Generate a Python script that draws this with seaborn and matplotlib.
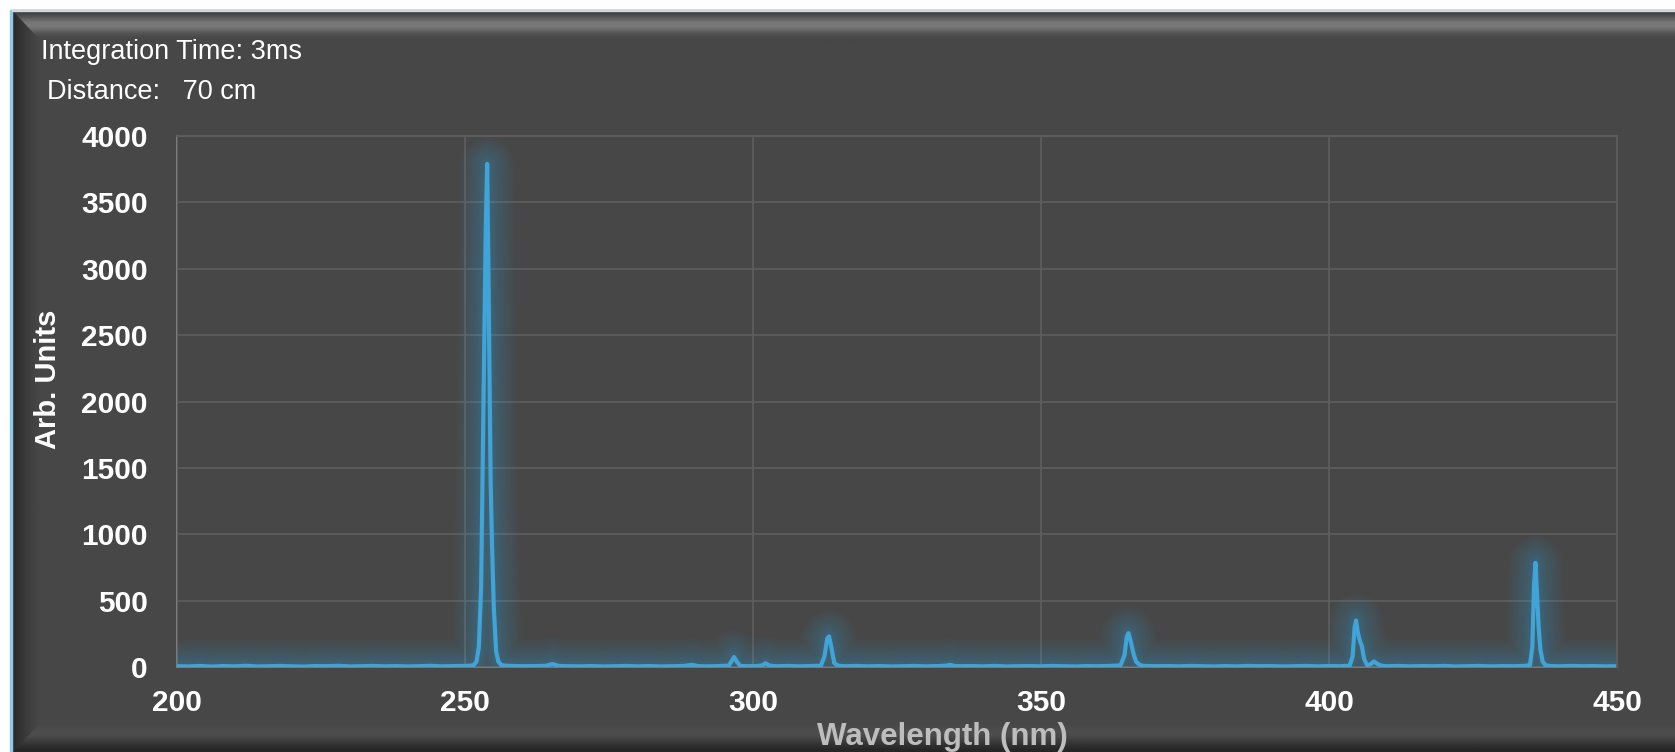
import numpy as np
import pandas as pd
import matplotlib
matplotlib.use("Agg")
import matplotlib.pyplot as plt
import seaborn as sns
from matplotlib.patches import Rectangle, Polygon
from matplotlib.colors import to_rgb

# ---------------- data ----------------
wavelength_nm = [
    200, 202, 204, 206, 208, 210, 212, 214, 216, 218, 220, 222, 224, 226, 228,
    230, 232, 234, 236, 238, 240, 242, 244, 246, 248, 250, 251, 251.5, 252.0,
    252.4, 252.8, 253.1, 253.4, 253.6, 253.85, 254.05, 254.25, 254.45, 254.7,
    255.0, 255.4, 255.8, 256.3, 257, 258, 260, 262, 264, 265.2, 266.3, 268, 270,
    272, 274, 276, 278, 280, 282, 284, 286, 288, 289.4, 290.6, 292, 294, 295.8,
    296.3, 296.7, 297.2, 297.8, 299, 300.5, 301.6, 302.2, 302.9, 304, 306, 308,
    310, 311.8, 312.4, 312.9, 313.2, 313.6, 314.1, 314.8, 316, 318, 320, 322,
    324, 326, 328, 330, 332, 333.5, 334.2, 335, 336, 338, 340, 342, 344, 346,
    348, 350, 352, 354, 356, 358, 360, 362, 363.8, 364.5, 364.9, 365.2, 365.6,
    366.0, 366.5, 367.2, 368, 370, 372, 374, 376, 378, 380, 382, 384, 386, 388,
    390, 392, 394, 396, 398, 400, 402, 403.6, 404.1, 404.45, 404.7, 405.0,
    405.4, 405.7, 406.1, 406.6, 407.2, 407.8, 408.5, 409.3, 410, 412, 414, 416,
    418, 420, 422, 424, 426, 428, 430, 432, 434, 434.9, 435.3, 435.6, 435.85,
    436.1, 436.4, 436.7, 437.1, 437.6, 438.5, 440, 442, 444, 446, 448, 450,
]
intensity = [
    6, 4, 8, 3, 7, 5, 9, 4, 6, 8, 5, 3, 7, 6, 9,
    4, 6, 8, 5, 7, 4, 6, 9, 5, 7, 8, 10, 14, 40,
    150, 600, 1600, 2600, 3300, 3790, 3050, 2200, 1400, 900,
    450, 120, 40, 15, 10, 8, 6, 7, 9, 22, 8, 6, 5,
    7, 4, 6, 8, 5, 7, 4, 6, 8, 16, 6, 5, 7, 10,
    45, 75, 40, 8, 6, 7, 12, 28, 10, 6, 8, 5,
    7, 10, 80, 215, 230, 150, 30, 9, 6, 8, 5, 7,
    4, 6, 8, 5, 7, 10, 16, 8, 6, 7, 5, 8, 4, 6,
    7, 5, 8, 6, 4, 7, 6, 8, 12, 90, 230, 255, 190,
    110, 40, 14, 8, 6, 7, 5, 8, 6, 4, 7, 5, 8, 6,
    7, 4, 6, 8, 5, 7, 6, 10, 80, 300, 350, 260,
    190, 160, 60, 15, 20, 42, 20, 8, 6, 8, 5, 7,
    6, 8, 4, 6, 8, 5, 7, 6, 8, 15, 150, 620, 785,
    560, 300, 130, 40, 12, 7, 5, 8, 6, 7, 5, 6,
]
x_ticks = [200, 250, 300, 350, 400, 450]
y_ticks = [0, 500, 1000, 1500, 2000, 2500, 3000, 3500, 4000]
note_lines = ["Integration Time: 3ms", "Distance:   70 cm"]
x_label = "Wavelength (nm)"
y_label = "Arb. Units"

# ---------------- style ----------------
sns.set_theme(style="dark")
plt.rcParams['font.family'] = ['Liberation Sans', 'DejaVu Sans']

W, H = 1675, 752
fig = plt.figure(figsize=(W / 100, H / 100), dpi=100)
fig.patch.set_facecolor('white')

FRAME = '#474747'
LINE = '#3fa4d8'

# ---------------- frame / bevels ----------------
bg = fig.add_axes([0, 0, 1, 1], zorder=-10)
bg.set_xlim(0, W)
bg.set_ylim(H, 0)
bg.axis('off')
bg.add_patch(Rectangle((12, 10), W - 12, H - 10, color=FRAME, zorder=0))


def grad_img(x0, x1, y0, y1, colors, vertical=True, clip=None):
    arr = np.array([to_rgb(c) for c in colors])
    if vertical:
        img = arr[:, None, :]
    else:
        img = arr[None, :, :]
    im = bg.imshow(img, extent=(x0, x1, y1, y0), origin='upper', aspect='auto',
                   interpolation='bilinear', zorder=1)
    if clip is not None:
        poly = Polygon(clip, closed=True, transform=bg.transData, facecolor='none', edgecolor='none')
        bg.add_patch(poly)
        im.set_clip_path(poly)
    return im


# left bevel
grad_img(12, 42, 10, H, ['#2c2c2c', '#343434', '#3c3c3c', '#424242', '#474747'], vertical=False,
         clip=[(12, 10), (42, 40), (42, 724), (12, H)])
# top bevel
grad_img(12, W, 10, 42, ['#3a3a3a', '#4c4c4c', '#626262', '#767676', '#7a7a7a', '#6a6a6a',
                         '#555555', '#4a4a4a', '#474747'],
         clip=[(12, 10), (W, 10), (W, 42), (42, 42)])
# bottom bevel
grad_img(12, W, 722, H, ['#474747', '#4b4b4b', '#4e4e4e', '#484848', '#3c3c3c', '#303030', '#262626'],
         clip=[(12, H), (42, 722), (W, 722), (W, H)])
# thin edges
bg.add_patch(Rectangle((9.5, 10), 2.5, H - 10, color='#8ccaea', zorder=2))
bg.add_patch(Rectangle((12, 9.5), W - 12, 1.2, color='#cfd8dc', zorder=2))

# ---------------- main plot ----------------
ax = fig.add_axes([177 / W, 85 / H, 1440 / W, 531 / H], zorder=1)
ax.set_facecolor(FRAME)

df = pd.DataFrame({"wavelength": wavelength_nm, "intensity": intensity})

# soft glow: many thin-alpha layers
for lw in [38, 34, 30, 26, 22, 19, 16, 13, 10, 8, 6]:
    sns.lineplot(data=df, x="wavelength", y="intensity", ax=ax, color=LINE,
                 lw=lw, alpha=0.035, estimator=None, sort=False, legend=False,
                 solid_capstyle='round', solid_joinstyle='round')
sns.lineplot(data=df, x="wavelength", y="intensity", ax=ax, color=LINE,
             lw=3.0, estimator=None, sort=False, legend=False,
             solid_joinstyle='round')

ax.set_xlim(200, 450)
ax.set_ylim(0, 4000)
ax.set_xticks(x_ticks)
ax.set_yticks(y_ticks)
ax.set_xticklabels([str(t) for t in x_ticks], fontsize=21.5, fontweight='bold', color='white')
ax.set_yticklabels([str(t) for t in y_ticks], fontsize=21.5, fontweight='bold', color='white')
ax.tick_params(axis='x', length=0, pad=16)
ax.tick_params(axis='y', length=0, pad=21)
ax.grid(True, color='#5d5d5d', linewidth=1.3)
ax.set_axisbelow(True)
for s in ['top', 'right']:
    ax.spines[s].set_visible(True)
    ax.spines[s].set_color('#5d5d5d')
    ax.spines[s].set_linewidth(1.3)
for s in ['left', 'bottom']:
    ax.spines[s].set_visible(True)
    ax.spines[s].set_color('#7c7c7c')
    ax.spines[s].set_linewidth(1.4)
ax.spines['left'].set_zorder(0.5)
ax.spines['bottom'].set_zorder(0.5)
ax.set_xlabel("")
ax.set_ylabel("")

# ---------------- texts ----------------
fig.text(41 / W, 1 - 59 / H, note_lines[0], fontsize=19.5, color='white',
         ha='left', va='baseline')
fig.text(47 / W, 1 - 99 / H, note_lines[1], fontsize=19.5, color='white',
         ha='left', va='baseline')
fig.text(48 / W, 1 - 379 / H, y_label, rotation=90, fontsize=21, fontweight='bold',
         color='white', ha='center', va='center')
fig.text(942 / W, 1 - 745 / H, x_label, fontsize=22.5, fontweight='bold',
         color='#bdbdbd', ha='center', va='baseline')

fig.savefig("out.png", dpi=100, facecolor=fig.get_facecolor())
